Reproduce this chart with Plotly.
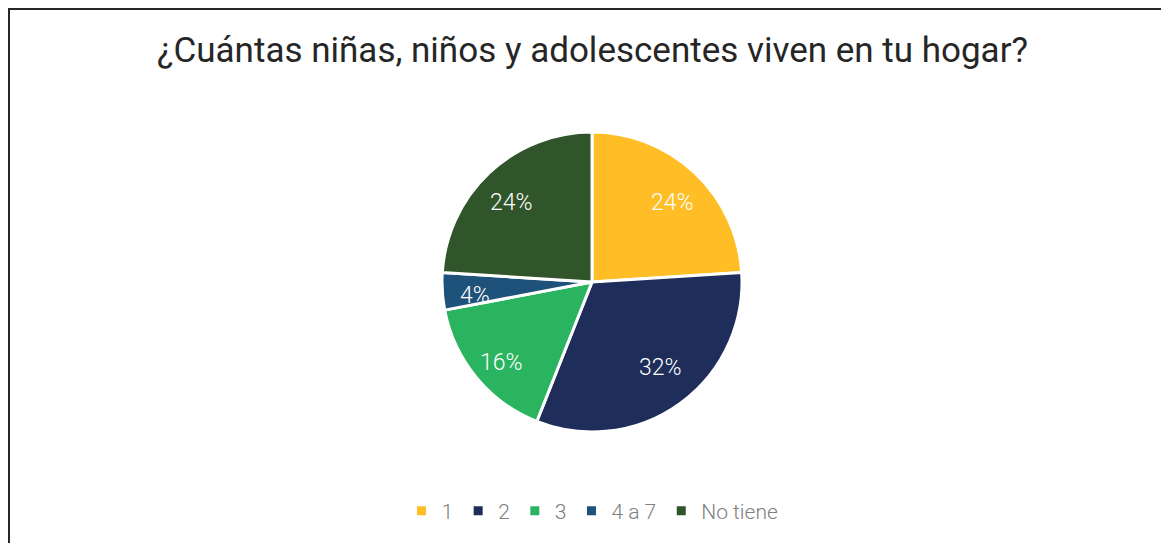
import numpy as np
import plotly.graph_objects as go

# Survey answers: number of children/adolescents at home
categories = ["1", "2", "3", "4 a 7", "No tiene"]
shares = [24, 32, 16, 4, 24]
colors = ["#FFBE26", "#1E2D5A", "#2BB45F", "#1F527B", "#31552B"]

title = "¿Cuántas niñas, niños y adolescentes viven en tu hogar?"

W, H = 1169, 543

# Pie geometry (in px, figure coordinates)
cx_px, cy_px, radius = 584, 274, 150
dom_x = [(cx_px - radius) / W, (cx_px + radius) / W]
dom_y = [(H - cy_px - radius) / H, (H - cy_px + radius) / H]

fig = go.Figure(
    go.Pie(
        labels=categories,
        values=shares,
        sort=False,
        direction="clockwise",
        rotation=0,
        marker=dict(colors=colors, line=dict(color="white", width=3)),
        textinfo="none",
        hoverinfo="label+percent",
        domain=dict(x=dom_x, y=dom_y),
    )
)

# Percentage labels placed like Excel's "best fit" (outer part of each slice)
vals = np.array(shares, dtype=float)
fracs = vals / vals.sum()
mid_angles = (np.cumsum(fracs) - fracs / 2) * 2 * np.pi  # clockwise from 12 o'clock
label_r = 0.78 * radius
annotations = []
for f, a in zip(fracs, mid_angles):
    annotations.append(
        dict(
            x=(cx_px + label_r * np.sin(a)) / W,
            y=(H - cy_px + label_r * np.cos(a)) / H,
            xref="paper",
            yref="paper",
            yshift=-6,
            text=f"{f:.0%}",
            showarrow=False,
            font=dict(family="Roboto", size=23, color="white", weight=300),
        )
    )

fig.update_layout(
    width=W,
    height=H,
    margin=dict(l=0, r=0, t=0, b=0),
    paper_bgcolor="white",
    plot_bgcolor="white",
    title=dict(
        text=title,
        x=0.5,
        xanchor="center",
        y=1 - 42 / H,
        yanchor="middle",
        font=dict(family="Roboto", size=35, color="#262626"),
    ),
    legend=dict(
        orientation="h",
        x=0.5,
        xanchor="center",
        y=40 / H,
        yanchor="middle",
        font=dict(family="Roboto", size=21, color="#808080", weight=300),
        itemwidth=30,
    ),
    annotations=annotations,
    shapes=[
        dict(
            type="rect",
            xref="paper",
            yref="paper",
            x0=1 / W,
            x1=1.05,
            y0=-0.05,
            y1=1 - 1 / H,
            line=dict(color="#262626", width=2),
            fillcolor="rgba(0,0,0,0)",
        )
    ],
)

fig.write_html("out.html")
